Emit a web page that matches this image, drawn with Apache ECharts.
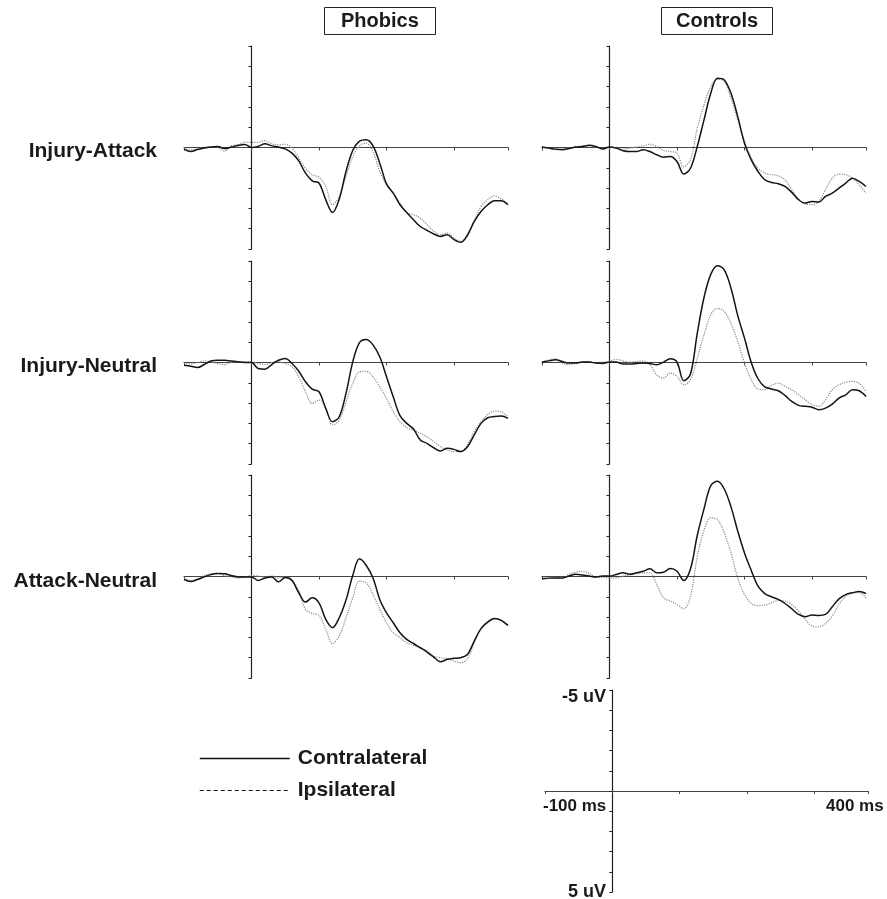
<!DOCTYPE html>
<html>
<head>
<meta charset="utf-8">
<script src="https://cdn.jsdelivr.net/npm/echarts@6/dist/echarts.min.js"></script>
<style>
  html, body { margin: 0; padding: 0; background: #fff; }
  #chart { width: 887px; height: 899px; }
</style>
</head>
<body>
<div id="chart"></div>
<script>
// time points (ms), one sample every 10 ms
var times = [-100,-90,-80,-70,-60,-50,-40,-30,-20,-10,
  0,10,20,30,40,50,60,70,80,90,
  100,110,120,130,140,150,160,170,180,190,
  200,210,220,230,240,250,260,270,280,290,
  300,310,320,330,340,350,360,370,380];

// amplitudes in uV (positive plotted downwards)
var phobicsIAContra = [0.08,0.2,0.1,0.03,-0.03,-0.05,0.05,-0.02,-0.1,-0.15,
  0,-0.05,-0.18,-0.08,-0.02,0.07,0.28,0.66,1.26,1.64,
  1.75,2.57,3.2,2.54,1.18,0.15,-0.31,-0.38,-0.08,0.77,
  1.79,2.25,2.82,3.2,3.56,3.89,4.08,4.26,4.38,4.3,
  4.54,4.67,4.3,3.64,3.15,2.82,2.62,2.62,2.82];
var phobicsIAIpsi = [0.03,0.1,0.08,-0.02,-0.02,0,0.18,-0.08,-0.13,-0.26,
  -0.25,-0.26,-0.34,-0.18,-0.13,-0.16,0.03,0.52,1.02,1.34,
  1.46,1.92,2.82,2.41,1.43,0.44,-0.08,-0.21,0.2,1.18,
  1.84,2.25,2.74,3.2,3.31,3.48,3.8,4.13,4.3,4.21,
  4.46,4.62,4.38,3.64,2.9,2.57,2.38,2.54,2.77];
var controlsIAContra = [-0.02,0.03,0.08,0.11,0.05,-0.02,-0.05,-0.11,-0.05,0.07,
  -0.02,0.03,0.16,0.2,0.2,0.11,0.2,0.36,0.48,0.44,
  0.69,1.31,1.02,-0.05,-1.36,-2.67,-3.41,-3.33,-2.67,-1.52,
  -0.21,0.61,1.18,1.59,1.72,1.79,1.92,2.21,2.57,2.74,
  2.66,2.69,2.41,2.25,2.0,1.75,1.51,1.67,1.92];
var controlsIAIpsi = [-0.05,0.03,0.11,0.08,0.02,-0.02,-0.08,-0.08,-0.02,0.08,
  -0.02,0.03,0.08,0.03,-0.02,-0.08,-0.16,-0.05,0.15,0.2,
  0.28,0.95,0.6,-0.95,-2.1,-3.0,-3.36,-3.25,-2.43,-1.36,
  -0.3,0.52,1.02,1.26,1.34,1.39,1.59,2.08,2.54,2.79,
  2.82,2.66,2.08,1.51,1.31,1.34,1.51,1.84,2.25];
var phobicsINContra = [0.13,0.18,0.25,0.1,-0.07,-0.11,-0.11,-0.07,-0.03,0,
  0,0.3,0.33,0.1,-0.11,-0.2,0.05,0.43,0.95,1.31,
  1.44,2.26,2.92,2.67,1.52,-0.03,-0.98,-1.13,-0.87,-0.28,
  0.7,1.69,2.62,3.0,3.28,3.82,3.98,4.2,4.36,4.23,
  4.28,4.39,4.15,3.57,3.0,2.72,2.66,2.64,2.75];
var phobicsINIpsi = [0.05,0.07,0,-0.07,-0.03,0.05,0.1,0,-0.03,-0.03,
  -0.03,0.05,0.1,0,-0.03,0.05,0.21,0.7,1.44,2.02,
  1.85,2.26,3.08,2.84,1.93,1.03,0.46,0.43,0.7,1.2,
  1.77,2.43,2.92,3.21,3.33,3.49,3.66,3.9,4.15,4.31,
  4.39,4.39,4.03,3.41,2.92,2.56,2.39,2.43,2.67];
var controlsINContra = [-0.02,-0.08,-0.13,-0.05,0.03,0.03,-0.02,-0.02,0.03,0.05,
  -0.02,-0.02,0.08,0.07,0.05,0.03,0.05,0.11,-0.02,-0.18,
  -0.02,0.9,0.57,-1.44,-3.2,-4.34,-4.77,-4.56,-3.66,-2.31,
  -1.2,0,0.8,1.2,1.31,1.39,1.62,1.92,2.11,2.16,
  2.2,2.33,2.25,2.05,1.75,1.59,1.34,1.39,1.67];
var controlsINIpsi = [-0.02,-0.13,-0.18,0.03,0.11,0.03,-0.02,-0.05,0.03,-0.02,
  -0.05,-0.16,-0.08,-0.02,-0.05,-0.08,0.11,0.61,0.77,0.52,
  0.69,1.1,0.85,-0.21,-1.36,-2.34,-2.67,-2.51,-1.93,-1.03,
  0.03,0.85,1.31,1.34,1.13,1.02,1.18,1.34,1.59,1.84,
  2.08,2.16,1.84,1.34,1.1,0.97,0.93,1.02,1.43];
var phobicsANContra = [0.15,0.25,0.15,0.02,-0.1,-0.15,-0.13,-0.05,0.02,0.02,
  0.02,0.2,0.07,0.02,0.26,0.05,0.2,0.8,1.26,1.05,
  1.3,2.11,2.52,2.03,1.16,-0.05,-0.87,-0.54,0.07,1.13,
  1.79,2.28,2.77,3.1,3.3,3.51,3.72,3.97,4.2,4.08,
  4.03,4.0,3.84,3.18,2.57,2.25,2.07,2.16,2.41];
var phobicsANIpsi = [0.07,0.2,0.11,-0.05,-0.13,-0.15,-0.05,0.02,0.07,0.03,
  -0.05,-0.02,0.03,-0.02,0.07,0.02,0.15,0.72,1.62,1.82,
  1.92,2.6,3.3,2.93,2.03,1.05,0.23,0.31,0.89,1.62,
  2.28,2.77,3.02,3.26,3.39,3.51,3.67,3.92,4.0,4.05,
  4.16,4.25,4.05,3.26,2.57,2.2,2.07,2.16,2.41];
var controlsANContra = [0.11,0.08,0.07,0.07,-0.02,-0.11,-0.07,-0.02,0.02,-0.02,
  -0.02,-0.1,-0.18,-0.11,-0.18,-0.26,-0.38,-0.18,-0.21,-0.39,
  -0.26,0.2,-0.38,-2.02,-3.33,-4.48,-4.69,-4.31,-3.43,-2.23,
  -1.16,-0.3,0.48,0.84,1.0,1.13,1.33,1.59,1.87,1.98,
  1.9,1.92,1.87,1.49,1.1,0.89,0.8,0.74,0.84];
var controlsANIpsi = [0.15,0.08,0.07,0.1,-0.1,-0.21,-0.26,-0.15,0.03,0.03,
  0.08,0.07,-0.02,-0.08,-0.13,-0.18,-0.18,0.39,1.05,1.2,
  1.38,1.59,0.97,-0.97,-2.28,-2.89,-2.8,-2.15,-1.16,0.07,
  0.89,1.33,1.43,1.41,1.3,1.18,1.21,1.38,1.7,2.11,
  2.44,2.48,2.31,1.95,1.38,0.97,0.8,0.8,1.05];

var groups = ['Phobics', 'Controls'];
var conditions = ['Injury-Attack', 'Injury-Neutral', 'Attack-Neutral'];
var scaleLabels = ['-5 uV', '5 uV', '-100 ms', '400 ms'];
// [row][col] -> [contra, ipsi]
var panels = [
  [[phobicsIAContra, phobicsIAIpsi], [controlsIAContra, controlsIAIpsi]],
  [[phobicsINContra, phobicsINIpsi], [controlsINContra, controlsINIpsi]],
  [[phobicsANContra, phobicsANIpsi], [controlsANContra, controlsANIpsi]]
];

var FONT = "'Liberation Sans', Arial, sans-serif";
var INK = '#1a1a1a';

var colLeft = [184, 542];
var rowTop = [46, 261, 475];
var panelW = 324, panelH = 203;

function pairs(vals) {
  var out = [];
  for (var i = 0; i < times.length; i++) out.push([times[i], vals[i]]);
  return out;
}

function makeX(idx) {
  return {
    type: 'value', gridIndex: idx, min: -100, max: 380, interval: 100,
    axisLine: { onZero: true, lineStyle: { color: '#444', width: 1.2 } },
    axisTick: { show: true, length: 3, lineStyle: { color: '#444' } },
    splitLine: { show: false },
    axisLabel: { show: false }
  };
}
function makeY(idx) {
  return {
    type: 'value', gridIndex: idx, min: -5, max: 5, interval: 1, inverse: true,
    axisLine: { show: true, onZero: true, lineStyle: { color: '#222', width: 1.2 } },
    axisTick: { show: true, length: 3, lineStyle: { color: '#222' } },
    splitLine: { show: false },
    axisLabel: { show: false }
  };
}

var grid = [], xAxis = [], yAxis = [], series = [];
var g = 0;
for (var r = 0; r < 3; r++) {
  for (var c = 0; c < 2; c++) {
    grid.push({ left: colLeft[c], top: rowTop[r], width: panelW, height: panelH, outerBoundsMode: 'none' });
    xAxis.push(makeX(g));
    yAxis.push(makeY(g));
    series.push({
      name: 'Ipsilateral', type: 'line', xAxisIndex: g, yAxisIndex: g,
      data: pairs(panels[r][c][1]), symbol: 'none', smooth: 0.35,
      lineStyle: { color: '#8a8a8a', width: 1.2, type: 'dotted' }, z: 2
    });
    series.push({
      name: 'Contralateral', type: 'line', xAxisIndex: g, yAxisIndex: g,
      data: pairs(panels[r][c][0]), symbol: 'none', smooth: 0.35,
      lineStyle: { color: '#141414', width: 1.5 }, z: 3
    });
    g++;
  }
}

// calibration panel
grid.push({ left: 545, top: 690, width: 323, height: 202, outerBoundsMode: 'none' });
xAxis.push(makeX(g));
yAxis.push(makeY(g));

var rowLabelY = [151, 366, 581];
var graphic = [];
for (var k = 0; k < conditions.length; k++) {
  graphic.push({
    type: 'text', x: 157, y: rowLabelY[k],
    style: { text: conditions[k], align: 'right', verticalAlign: 'middle',
      font: 'bold 21px ' + FONT, fill: INK }
  });
}
graphic.push(
  { type: 'text', x: 606, y: 697, style: { text: scaleLabels[0], align: 'right', verticalAlign: 'middle', font: 'bold 18px ' + FONT, fill: INK } },
  { type: 'text', x: 606, y: 892, style: { text: scaleLabels[1], align: 'right', verticalAlign: 'middle', font: 'bold 18px ' + FONT, fill: INK } },
  { type: 'text', x: 543, y: 806, style: { text: scaleLabels[2], align: 'left', verticalAlign: 'middle', font: 'bold 17px ' + FONT, fill: INK } },
  { type: 'text', x: 826, y: 806, style: { text: scaleLabels[3], align: 'left', verticalAlign: 'middle', font: 'bold 17px ' + FONT, fill: INK } }
);

var option = {
  backgroundColor: '#fff',
  animation: false,
  title: [
    { text: groups[0], left: 324, top: 7, padding: [4, 17], borderWidth: 1, borderColor: '#222',
      textStyle: { fontSize: 20, fontWeight: 'bold', color: INK, fontFamily: FONT } },
    { text: groups[1], left: 661, top: 7, padding: [4, 15], borderWidth: 1, borderColor: '#222',
      textStyle: { fontSize: 20, fontWeight: 'bold', color: INK, fontFamily: FONT } }
  ],
  legend: {
    orient: 'vertical', left: 199, top: 748, padding: 0, itemWidth: 90, itemHeight: 12, itemGap: 11,
    selectedMode: false,
    textStyle: { fontSize: 21, fontWeight: 'bold', color: INK, fontFamily: FONT, padding: [0, 0, 0, 3] },
    data: [
      { name: 'Contralateral', itemStyle: { opacity: 0 }, lineStyle: { color: '#111', width: 1.5, type: 'solid' } },
      { name: 'Ipsilateral', itemStyle: { opacity: 0 }, lineStyle: { color: '#111', width: 1, type: [4, 3] } }
    ]
  },
  grid: grid,
  xAxis: xAxis,
  yAxis: yAxis,
  series: series,
  graphic: graphic
};

var chart = echarts.init(document.getElementById('chart'), null, { renderer: 'canvas' });
chart.setOption(option);
</script>
</body>
</html>
